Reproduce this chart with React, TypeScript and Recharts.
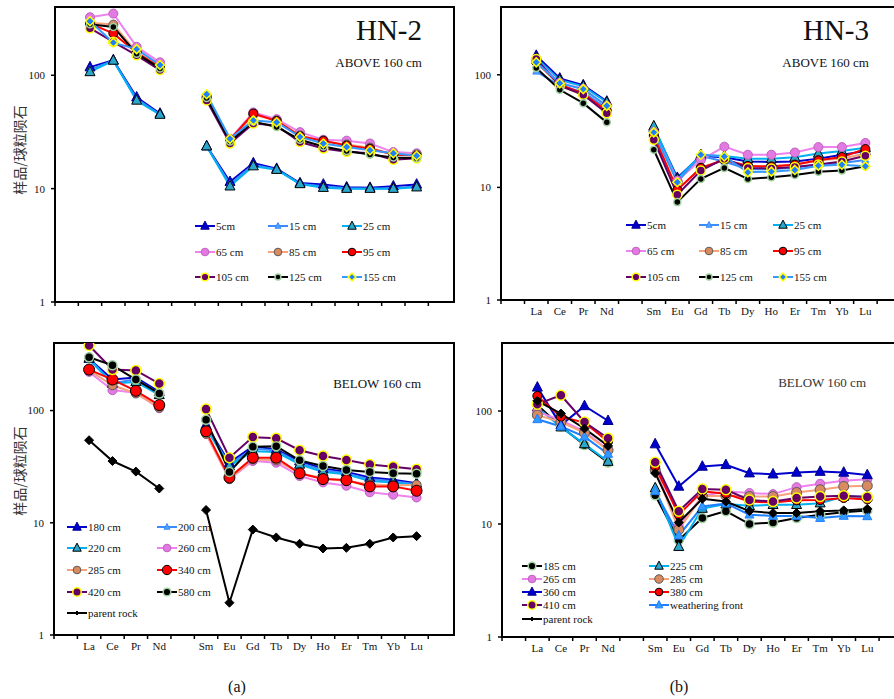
import React from 'react'
import { LineChart, Line, XAxis, YAxis, ReferenceArea } from 'recharts'

// x-axis slots: blank, La..Nd, blank (Pm), Sm..Lu
const SLOTS = ['', 'La', 'Ce', 'Pr', 'Nd', '', 'Sm', 'Eu', 'Gd', 'Tb', 'Dy', 'Ho', 'Er', 'Tm', 'Yb', 'Lu']
const REE = ['La', 'Ce', 'Pr', 'Nd', 'Sm', 'Eu', 'Gd', 'Tb', 'Dy', 'Ho', 'Er', 'Tm', 'Yb', 'Lu']
const Y_TICKS = [1, 10, 100]
const Y_MAX = 400
const X_MAX = 17.1
const TICK_POS = SLOTS.flatMap((_, i) => [i, i + 0.5]).concat([SLOTS.length])

// ── HN-2, above 160 cm ──
const A2_5 = [118, 136, 64, 46, 23.7, 11.5, 16.8, 15.0, 11.2, 10.9, 10.3, 10.2, 10.5, 10.9]
const A2_15 = [112, 134, 62, 45, 23.5, 11.0, 16.2, 14.8, 11.0, 10.5, 10.1, 10.0, 10.1, 10.5]
const A2_25 = [107, 135, 60, 45, 23.7, 10.5, 15.8, 14.7, 11.0, 10.2, 10.0, 10.0, 10.0, 10.3]
const A2_65 = [325, 350, 178, 130, 66, 27.5, 47, 41, 31.5, 27, 26.5, 25, 21, 20.5]
const A2_85 = [290, 280, 160, 120, 62, 26.5, 45, 40, 29.5, 26, 24.5, 23, 20, 20]
const A2_95 = [285, 234, 158, 118, 64, 27, 46, 39.5, 29, 26.5, 24, 22.5, 20, 19.5]
const A2_105 = [260, 197, 150, 111, 60, 25, 37.5, 36, 25.8, 22.6, 21.1, 20.5, 18, 18.5]
const A2_125 = [282, 267, 155, 115, 63, 26, 39, 35, 27, 23.5, 21.5, 20, 18.8, 18.5]
const A2_155 = [300, 194, 170, 123, 68, 27.5, 40, 38.5, 28.6, 25, 23.3, 21.8, 20.5, 19.5]

// ── HN-3, above 160 cm ──
const A3_5 = [148, 93, 81, 58, 34, 12.2, 19, 18.5, 17, 16.8, 17, 18, 19.5, 21]
const A3_15 = [107, 80, 70, 50, 31, 11.5, 19, 17, 14.5, 14.5, 15, 16, 16.5, 17.5]
const A3_25 = [140, 90, 79, 57, 35, 11.8, 19.5, 19, 18, 18, 18.5, 20, 21, 22.5]
const A3_65 = [135, 85, 75, 53, 31, 11.5, 17.5, 23, 19.5, 19.5, 20.4, 22.8, 22.8, 24.8]
const A3_85 = [130, 80, 66, 47, 28, 9.5, 15, 17.5, 15.5, 15.5, 16, 17.5, 18, 20]
const A3_95 = [130, 82, 68, 48, 29, 9.5, 14.9, 17.6, 15.5, 15.3, 15.9, 17.4, 18.6, 21.9]
const A3_105 = [138, 80, 66.5, 45.6, 26.5, 8.6, 14.1, 18, 14.9, 14.7, 15.2, 16, 17, 19.1]
const A3_125 = [115, 73.6, 56, 37.8, 21.6, 7.4, 11.9, 14.9, 11.9, 12.3, 12.9, 13.8, 14.1, 15.4]
const A3_155 = [129, 84, 74.6, 53, 30.8, 11.1, 19.5, 18.8, 13.6, 13.8, 14.3, 15.6, 15.9, 15.4]

// ── HN-2, below 160 cm ──
const B2_180 = [290, 189, 197, 147, 74.7, 34.3, 48, 45, 35.5, 30.4, 28.4, 25.3, 24.2, 22.5]
const B2_200 = [285, 175, 190, 142, 72, 33, 46, 44, 34, 29.5, 27.5, 24.5, 23.5, 22]
const B2_220 = [292, 174, 180, 138, 70, 32, 43.5, 42.7, 33.1, 28.4, 27, 23.6, 22.9, 21.6]
const B2_260 = [221, 152, 144, 105, 62, 24.5, 35.5, 34.3, 26.1, 22.9, 21.4, 18.7, 17.8, 16.8]
const B2_285 = [228, 168, 142, 106, 62, 24.5, 36.7, 36, 27.6, 25.1, 23.5, 22, 21.5, 21.8]
const B2_340 = [232, 189, 150, 112, 65.3, 25.3, 38, 38, 27.6, 24.5, 24, 21.1, 21.1, 19.3]
const B2_420 = [380, 232, 228, 174, 103, 38, 58, 56.6, 44.3, 39.3, 36.2, 33.1, 31.6, 30]
const B2_580 = [299, 253, 189, 142, 82.7, 28.4, 47.5, 48, 36, 32.1, 29.6, 28.4, 27.6, 27.4]
const B2_ROCK = [54.4, 35.5, 28.6, 20.2, 13.0, 1.94, 8.7, 7.4, 6.5, 5.9, 5.98, 6.5, 7.4, 7.6]

// ── HN-3, below 160 cm ──
const B3_185 = [113, 73, 50, 35, 18.0, 7.2, 11.3, 13.0, 10.0, 10.3, 11.3, 12.1, 12.7, 13.2]
const B3_225 = [108, 72, 51, 35.7, 20.8, 6.3, 13.7, 15.0, 14.5, 14.8, 14.8, 15.3, 17.5, 17.5]
const B3_265 = [98.6, 83, 66, 45.3, 31, 9.5, 17.7, 19.5, 18.8, 18.4, 21.2, 22.7, 24.2, 24.9]
const B3_285 = [92, 80, 64, 45, 30, 8.9, 17.7, 17.8, 17.5, 17.5, 19.0, 20.1, 21.5, 21.8]
const B3_360 = [162, 75, 111, 82, 51, 21.5, 32.3, 33.4, 28.2, 27.6, 28.6, 29.1, 28.6, 27.2]
const B3_380 = [136, 89, 79, 53.6, 32.3, 12.1, 19.5, 18.5, 15.8, 15.5, 16.2, 16.3, 17.0, 16.5]
const B3_410 = [115, 138, 80, 57.4, 35.2, 13.0, 20.4, 20.1, 16.3, 15.8, 17.0, 17.5, 17.8, 17.3]
const B3_WF = [84.5, 73, 59.3, 41.7, 19.5, 7.9, 14.3, 15.2, 12.1, 11.8, 11.8, 11.3, 11.8, 11.7]
const B3_ROCK = [123, 95, 70, 49.1, 28.2, 10.3, 16.7, 15.8, 13.0, 12.5, 12.5, 13.0, 13.2, 13.6]

type Mk = { line: string; shape: 'tri' | 'circle' | 'diamond'; fill: string; stroke: string; size: number; sw?: number }

/* marker / line styles (Excel-like) */
const MK: Record<string, Mk> = {
  navyTri: { line: '#0000CC', shape: 'tri', fill: '#0000CC', stroke: '#00008B', size: 5 },
  blueTri: { line: '#3B8BFF', shape: 'tri', fill: '#4DA3FF', stroke: '#3B8BFF', size: 3.5 },
  cyanTri: { line: '#00B0F0', shape: 'tri', fill: '#2AA8CC', stroke: '#000000', size: 5 },
  violet: { line: '#EE82EE', shape: 'circle', fill: '#E27AE2', stroke: '#C060C0', size: 4.5 },
  salmon: { line: '#F8A27C', shape: 'circle', fill: '#D98A5F', stroke: '#5A5A5A', size: 4.5 },
  red: { line: '#FF0000', shape: 'circle', fill: '#FF0000', stroke: '#000000', size: 4.5 },
  purple: { line: '#660066', shape: 'circle', fill: '#660066', stroke: '#FFFF00', size: 4.5, sw: 1.5 },
  black: { line: '#000000', shape: 'circle', fill: '#000000', stroke: '#9FCF9F', size: 3.5, sw: 1.5 },
  blueDia: { line: '#3399FF', shape: 'diamond', fill: '#1E7FFF', stroke: '#FFFF00', size: 4.5, sw: 1.5 },
  rock: { line: '#000000', shape: 'diamond', fill: '#000000', stroke: '#000000', size: 4.5 },
  wfTri: { line: '#1E7FFF', shape: 'tri', fill: '#3399FF', stroke: '#1E7FFF', size: 4.5 },
}

type Series = { key: string; name: string; values: number[]; mk: Mk; legendMk?: Mk }

const ABOVE_2: Series[] = [
  { key: 's5', name: '5cm', values: A2_5, mk: MK.navyTri },
  { key: 's15', name: '15 cm', values: A2_15, mk: MK.blueTri },
  { key: 's25', name: '25 cm', values: A2_25, mk: MK.cyanTri },
  { key: 's65', name: '65 cm', values: A2_65, mk: MK.violet },
  { key: 's85', name: '85 cm', values: A2_85, mk: MK.salmon },
  { key: 's95', name: '95 cm', values: A2_95, mk: MK.red },
  { key: 's105', name: '105 cm', values: A2_105, mk: MK.purple },
  { key: 's125', name: '125 cm', values: A2_125, mk: MK.black },
  { key: 's155', name: '155 cm', values: A2_155, mk: MK.blueDia },
]

const ABOVE_3: Series[] = [
  { key: 's5', name: '5cm', values: A3_5, mk: MK.navyTri },
  { key: 's15', name: '15 cm', values: A3_15, mk: MK.blueTri },
  { key: 's25', name: '25 cm', values: A3_25, mk: MK.cyanTri },
  { key: 's65', name: '65 cm', values: A3_65, mk: MK.violet },
  { key: 's85', name: '85 cm', values: A3_85, mk: MK.salmon },
  { key: 's95', name: '95 cm', values: A3_95, mk: MK.red },
  { key: 's105', name: '105 cm', values: A3_105, mk: MK.purple },
  { key: 's125', name: '125 cm', values: A3_125, mk: MK.black },
  { key: 's155', name: '155 cm', values: A3_155, mk: MK.blueDia },
]

const BELOW_2: Series[] = [
  { key: 's180', name: '180 cm', values: B2_180, mk: MK.navyTri },
  { key: 's200', name: '200 cm', values: B2_200, mk: MK.blueTri },
  { key: 's220', name: '220 cm', values: B2_220, mk: MK.cyanTri },
  { key: 's260', name: '260 cm', values: B2_260, mk: MK.violet },
  { key: 's285', name: '285 cm', values: B2_285, mk: MK.salmon },
  { key: 's340', name: '340 cm', values: B2_340, mk: { ...MK.red, size: 5.5 } },
  { key: 's420', name: '420 cm', values: B2_420, mk: { ...MK.purple, size: 5 } },
  { key: 's580', name: '580 cm', values: B2_580, mk: { ...MK.black, size: 4.5 } },
  { key: 'rock', name: 'parent rock', values: B2_ROCK, mk: MK.rock, legendMk: { ...MK.rock, size: 2 } },
]

const BELOW_3: Series[] = [
  { key: 's185', name: '185 cm', values: B3_185, mk: { ...MK.black, size: 4.5 } },
  { key: 's225', name: '225 cm', values: B3_225, mk: MK.cyanTri },
  { key: 's265', name: '265 cm', values: B3_265, mk: MK.violet },
  { key: 's285', name: '285 cm', values: B3_285, mk: { ...MK.salmon, size: 5 } },
  { key: 's360', name: '360 cm', values: B3_360, mk: MK.navyTri },
  { key: 's380', name: '380 cm', values: B3_380, mk: MK.red },
  { key: 's410', name: '410 cm', values: B3_410, mk: { ...MK.purple, size: 5 } },
  { key: 'wf', name: 'weathering front', values: B3_WF, mk: MK.wfTri },
  { key: 'rock', name: 'parent rock', values: B3_ROCK, mk: MK.rock, legendMk: { ...MK.rock, size: 2 } },
]

const SERIF = '"Liberation Serif", "Times New Roman", serif'

function buildRows(series: Series[]) {
  return SLOTS.map((name, i) => {
    const row: Record<string, number | null> = { x: i + 0.5 }
    const k = REE.indexOf(name)
    series.forEach((s) => {
      row[s.key] = k >= 0 ? s.values[k] : null
    })
    return row
  })
}

function Marker({ x, y, mk, scale = 1 }: { x: number; y: number; mk: Mk; scale?: number }) {
  const s = mk.size * scale
  const common = { fill: mk.fill, stroke: mk.stroke, strokeWidth: mk.sw ?? 1 }
  if (mk.shape === 'circle') return <circle cx={x} cy={y} r={s} {...common} />
  if (mk.shape === 'diamond')
    return <polygon points={`${x},${y - s} ${x + s},${y} ${x},${y + s} ${x - s},${y}`} {...common} />
  return (
    <polygon
      points={`${x},${y - s * 1.15} ${x - s},${y + s * 0.75} ${x + s},${y + s * 0.75}`}
      {...common}
    />
  )
}

/* x ticks: tick marks on slot edges, element names in slot centres */
function SlotTick(props: any) {
  const { x, y, payload, showLabels } = props
  const v = payload.value as number
  if (Number.isInteger(v)) {
    return <line x1={x} y1={y} x2={x} y2={y + 4} stroke="#000" strokeWidth={1.5} />
  }
  const name = SLOTS[Math.floor(v)]
  if (!showLabels || !name) return <g />
  return (
    <text x={x} y={y + 15} textAnchor="middle" fontSize={11} fontFamily={SERIF} fill="#111">
      {name}
    </text>
  )
}

function Panel({
  left, top, plotW, plotH, series, showLabels,
}: {
  left: number; top: number; plotW: number; plotH: number; series: Series[]; showLabels: boolean
}) {
  const YW = 46
  const MT = 4
  const MR = 4
  const XH = 26
  const rows = buildRows(series)
  return (
    <div style={{ position: 'absolute', left: left - YW, top: top - MT }}>
      <LineChart
        width={YW + plotW + MR}
        height={MT + plotH + XH}
        data={rows}
        margin={{ top: MT, right: MR, bottom: 0, left: 0 }}
      >
        <XAxis
          dataKey="x"
          type="number"
          domain={[0, X_MAX]}
          ticks={TICK_POS}
          interval={0}
          allowDataOverflow
          tickLine={false}
          tickSize={0}
          tickMargin={0}
          height={XH}
          axisLine={{ stroke: '#000', strokeWidth: 2 }}
          tick={(p: any) => <SlotTick {...p} showLabels={showLabels} />}
        />
        <YAxis
          type="number"
          scale="log"
          domain={[1, Y_MAX]}
          ticks={Y_TICKS}
          allowDataOverflow
          width={YW}
          tickSize={4}
          tickMargin={6}
          axisLine={{ stroke: '#000', strokeWidth: 2 }}
          tickLine={{ stroke: '#000', strokeWidth: 1.5 }}
          tick={{ fontSize: 11, fontFamily: SERIF, fill: '#111' }}
        />
        <ReferenceArea
          x1={0}
          x2={X_MAX}
          y1={1}
          y2={Y_MAX}
          fill="none"
          stroke="#000"
          strokeWidth={2}
          ifOverflow="visible"
        />
        {series.map((s) => (
          <Line
            key={s.key}
            dataKey={s.key}
            name={s.name}
            type="linear"
            stroke={s.mk.line}
            strokeWidth={2}
            connectNulls={false}
            isAnimationActive={false}
            activeDot={false}
            dot={(p: any) => {
              const k = `${s.key}-${p.index}`
              if (p.cx == null || p.cy == null || p.value == null) return <g key={k} />
              return <Marker key={k} x={p.cx} y={p.cy} mk={s.mk} />
            }}
          />
        ))}
      </LineChart>
    </div>
  )
}

function LegendBlock({ series, cols, rows }: { series: Series[]; cols: number[]; rows: number[] }) {
  return (
    <g>
      {series.map((s, i) => {
        const x = cols[i % cols.length]
        const y = rows[Math.floor(i / cols.length)]
        const lm = s.legendMk ?? { ...s.mk, size: s.mk.size * 0.85 }
        return (
          <g key={s.key}>
            <line x1={x} y1={y} x2={x + 20} y2={y} stroke={s.mk.line} strokeWidth={2} />
            <Marker x={x + 10} y={y} mk={lm} />
            <text x={x + 21} y={y + 4} fontSize={11} fontFamily={SERIF} fill="#111">
              {s.name}
            </text>
          </g>
        )
      })}
    </g>
  )
}

export default function App() {
  return (
    <div
      style={{
        position: 'absolute', left: 0, top: 0, width: 894, height: 699,
        overflow: 'hidden', background: '#fff', fontFamily: SERIF,
      }}
    >
      <Panel left={55} top={7} plotW={399} plotH={295} series={ABOVE_2} showLabels={false} />
      <Panel left={501} top={7} plotW={402} plotH={293} series={ABOVE_3} showLabels />
      <Panel left={54} top={343} plotW={400} plotH={292} series={BELOW_2} showLabels />
      <Panel left={502} top={343} plotW={403} plotH={294} series={BELOW_3} showLabels />

      <svg
        width={894}
        height={699}
        style={{ position: 'absolute', left: 0, top: 0, pointerEvents: 'none' }}
      >
        <text x={422} y={40} textAnchor="end" fontSize={29} fontFamily={SERIF} fill="#111">HN-2</text>
        <text x={422} y={67} textAnchor="end" fontSize={13} fontFamily={SERIF} fill="#111">ABOVE 160 cm</text>
        <text x={869} y={40} textAnchor="end" fontSize={29} fontFamily={SERIF} fill="#111">HN-3</text>
        <text x={869} y={67} textAnchor="end" fontSize={13} fontFamily={SERIF} fill="#111">ABOVE 160 cm</text>
        <text x={421} y={388} textAnchor="end" fontSize={13} fontFamily={SERIF} fill="#111">BELOW 160 cm</text>
        <text x={866} y={387} textAnchor="end" fontSize={13} fontFamily={SERIF} fill="#333">BELOW 160 cm</text>

        <text
          x={19} y={150} transform="rotate(-90 19 150)" textAnchor="middle" dominantBaseline="central"
          fontSize={14} fontFamily='"Noto Sans CJK SC", sans-serif' fill="#333"
        >
          样品/球粒陨石
        </text>
        <text
          x={19} y={471} transform="rotate(-90 19 471)" textAnchor="middle" dominantBaseline="central"
          fontSize={14} fontFamily='"Noto Sans CJK SC", sans-serif' fill="#333"
        >
          样品/球粒陨石
        </text>

        <LegendBlock series={ABOVE_2} cols={[195, 268, 342]} rows={[226, 252, 277]} />
        <LegendBlock series={ABOVE_3} cols={[626, 699, 773]} rows={[225, 251, 277]} />
        <LegendBlock series={BELOW_2} cols={[67, 157]} rows={[527, 548, 570, 592, 613]} />
        <LegendBlock series={BELOW_3} cols={[522, 649]} rows={[566, 579, 592, 605, 619]} />

        <text x={237} y={692} textAnchor="middle" fontSize={16} fontFamily={SERIF} fill="#111">(a)</text>
        <text x={679} y={692} textAnchor="middle" fontSize={16} fontFamily={SERIF} fill="#111">(b)</text>
      </svg>
    </div>
  )
}
